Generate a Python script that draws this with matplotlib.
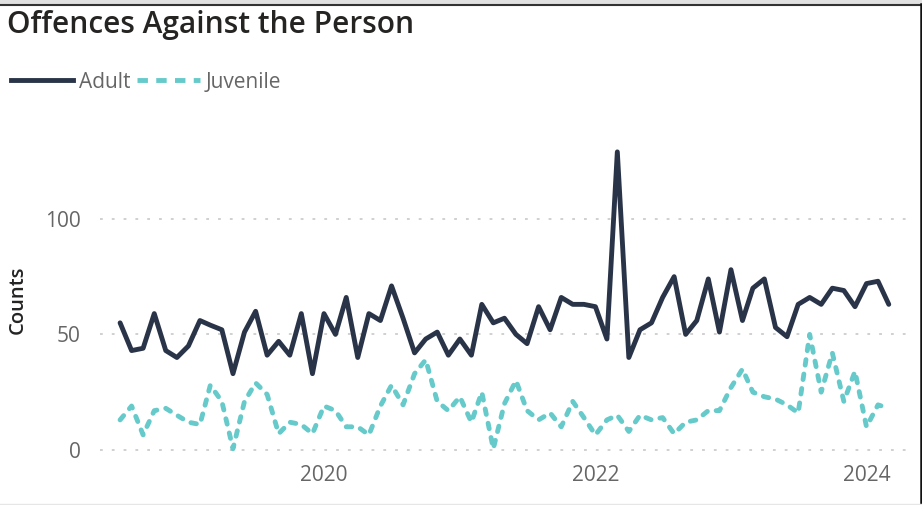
import numpy as np
import pandas as pd
import matplotlib

matplotlib.use("Agg")

import matplotlib.pyplot as plt
import matplotlib.dates as mdates
from matplotlib.lines import Line2D
from matplotlib.patches import Rectangle

# monthly counts, Jul 2018 .. Mar 2024
months = pd.date_range("2018-07-01", "2024-03-01", freq="MS")

adult = [
    55, 43, 44, 59, 43, 40,
    45, 56, 54, 52, 33, 51, 60, 41, 47, 41, 59, 33,
    59, 50, 66, 40, 59, 56, 71, 57, 42, 48, 51, 41,
    48, 41, 63, 55, 57, 50, 46, 62, 52, 66, 63, 63,
    62, 48, 129, 40, 52, 55, 66, 75, 50, 56, 74, 51,
    78, 56, 70, 74, 53, 49, 63, 66, 63, 70, 69, 62,
    72, 73, 63,
]
juvenile = [
    13, 19, 6.5, 17, 18, 15,
    12, 11, 28, 21, 0.5, 21, 29, 24, 7, 12, 11, 7,
    19, 17, 10, 10, 6.5, 19, 28, 19.5, 33, 39, 21, 17,
    23, 12, 25, 0.5, 20, 30, 17, 13, 16, 10, 21, 14,
    6.5, 13, 15, 8, 15, 13, 14, 7, 12, 13, 17, 17,
    27, 35, 25, 23, 22, 19.5, 16, 50, 25, 42, 21, 34,
    10, 19.5, 18,
]
year_ticks = ["2020", "2022", "2024"]
y_ticks = [0, 50, 100]

ADULT_C = "#2A3449"
JUV_C = "#66CACA"
GRAY = "#666666"

plt.rcParams["font.family"] = ["Open Sans", "DejaVu Sans"]
plt.rcParams["lines.scale_dashes"] = False

fig = plt.figure(figsize=(9.22, 5.05), dpi=100)
ax = fig.add_axes([0.1085, 0.099, 0.8752, 0.614])

LW = 3.5
ax.plot(months, adult, color=ADULT_C, lw=LW, solid_joinstyle="round",
        solid_capstyle="round", zorder=3)
ax.plot(months, juvenile, color=JUV_C, lw=LW, dashes=(4.0, 6.5),
        dash_capstyle="round", dash_joinstyle="round", zorder=3)

ref = pd.Timestamp("2020-01-01")
ax.set_xlim(mdates.date2num(ref - pd.Timedelta(days=603)),
            mdates.date2num(ref + pd.Timedelta(days=1570)))
ax.set_ylim(-2.2, 132)

ax.set_xticks([mdates.date2num(pd.Timestamp(f"{y}-01-01")) for y in year_ticks])
ax.set_xticklabels(year_ticks)
ax.set_yticks(y_ticks)
ax.tick_params(axis="both", length=0, labelsize=15, labelcolor=GRAY)
ax.tick_params(axis="x", pad=7)
ax.tick_params(axis="y", pad=14)

ax.grid(axis="y", color="#C8C8C8", lw=1.2, dashes=(2, 6.5))
ax.grid(axis="x", visible=False)
for s in ax.spines.values():
    s.set_visible(False)

ax.set_ylabel("Counts", fontsize=14.5, fontweight="semibold", color="#252423",
              labelpad=12)

fig.text(7 / 922, 1 - 25 / 505, "Offences Against the Person", fontsize=21.5,
         fontweight="semibold", color="#252423", va="center", ha="left")

handles = [
    Line2D([], [], color=ADULT_C, lw=LW),
    Line2D([], [], color=JUV_C, lw=LW, dashes=(7.5, 6)),
]
fig.legend(handles, ["Adult", "Juvenile"], loc="center left",
           bbox_to_anchor=(-0.002, 1 - 82 / 505), ncol=2, frameon=False,
           fontsize=15, labelcolor=GRAY, handlelength=3.0, handletextpad=0.3,
           columnspacing=0.3, borderaxespad=0.2)

# screenshot frame
fig.patches.append(Rectangle((0, 1 - 3 / 505), 1, 3 / 505, transform=fig.transFigure,
                             color="#E1E1E1", zorder=0))
fig.add_artist(Line2D([0, 1], [1 - 4.5 / 505] * 2, color="#333333", lw=1.5))
fig.add_artist(Line2D([920.5 / 922] * 2, [0, 1 - 4 / 505], color="#111111", lw=1.8))
fig.add_artist(Line2D([0, 1], [1.5 / 505] * 2, color="#E6E6E6", lw=1.0))

fig.savefig("out.png", dpi=100)
